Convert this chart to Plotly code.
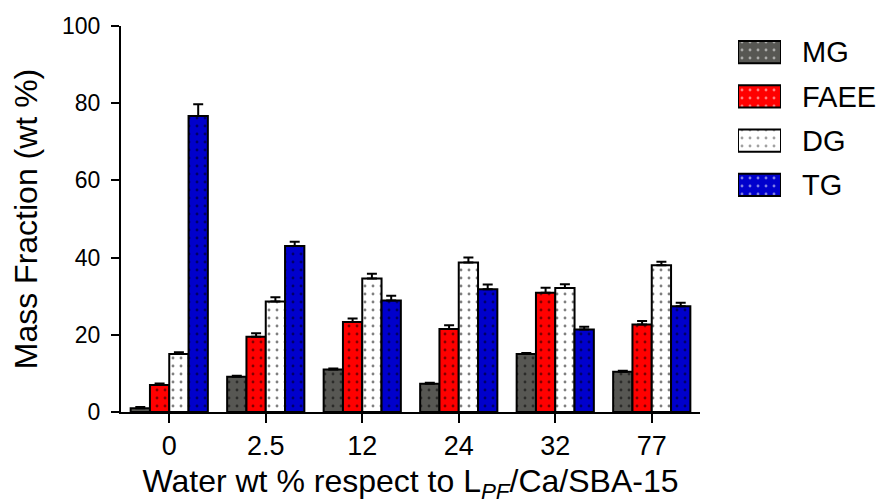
import plotly.graph_objects as go

categories = ["0", "2.5", "12", "24", "32", "77"]
series_names = ["MG", "FAEE", "DG", "TG"]
mg = [1.0, 9.1, 11.0, 7.3, 15.0, 10.4]
faee = [7.0, 19.5, 23.3, 21.5, 30.9, 22.7]
dg = [15.0, 28.6, 34.6, 38.7, 32.1, 38.0]
tg = [76.7, 43.0, 28.9, 31.8, 21.4, 27.4]
mg_err = [0.3, 0.3, 0.3, 0.3, 0.3, 0.3]
faee_err = [0.4, 0.9, 0.9, 1.0, 1.3, 0.9]
dg_err = [0.5, 1.1, 1.2, 1.3, 1.0, 0.9]
tg_err = [3.0, 1.1, 1.2, 1.2, 0.7, 0.9]
colors = ["#575753", "#FF0000", "#FFFFFF", "#0000CC"]

values = [mg, faee, dg, tg]
errors = [mg_err, faee_err, dg_err, tg_err]

FONT = "Arial, 'Liberation Sans', sans-serif"
W, H = 889, 504
ML, MR, MT, MB = 121, 0, 26, 92
plot_w = W - ML - MR
plot_h = H - MT - MB
main_right = 700
PATTERN = dict(shape=".", fgcolor="black", size=8, solidity=0.1)

fig = go.Figure()
for name, vals, errs, col in zip(series_names, values, errors, colors):
    fig.add_trace(go.Bar(
        x=categories, y=vals, name=name,
        marker=dict(color=col, line=dict(color="black", width=2), pattern=PATTERN),
        error_y=dict(type="data", array=errs, arrayminus=[0] * len(errs),
                     color="black", thickness=2, width=5),
        showlegend=False,
    ))

# legend drawn as a small bar chart on its own axes
fig.add_trace(go.Bar(
    x=[1] * len(series_names), y=series_names, orientation="h",
    marker=dict(color=colors, line=dict(color="black", width=2), pattern=PATTERN),
    width=0.5, xaxis="x2", yaxis="y2", showlegend=False, hoverinfo="skip",
))

fig.update_layout(
    width=W, height=H,
    margin=dict(l=ML, r=MR, t=MT, b=MB),
    paper_bgcolor="white", plot_bgcolor="white",
    barmode="group", bargap=0.2, bargroupgap=0,
    font=dict(family=FONT, color="black"),
    xaxis=dict(
        domain=[0, (main_right - ML) / plot_w],
        range=[-0.5, 5.5], type="category",
        showline=True, linecolor="black", linewidth=2,
        ticks="outside", ticklen=9, tickwidth=2, tickcolor="black",
        tickfont=dict(size=27), showgrid=False, zeroline=False,
        title=dict(text="Water wt % respect to L<sub><i>PF</i></sub>/Ca/SBA-15",
                   font=dict(size=32), standoff=17),
    ),
    yaxis=dict(
        range=[0, 100], tickvals=[0, 20, 40, 60, 80, 100],
        showline=True, linecolor="black", linewidth=2,
        ticks="outside", ticklen=8, tickwidth=2, tickcolor="black",
        tickfont=dict(size=23), ticklabelstandoff=6,
        showgrid=False, zeroline=False,
        title=dict(text="Mass Fraction (wt %)", font=dict(size=32), standoff=15),
    ),
    xaxis2=dict(
        domain=[(738 - ML) / plot_w, (781 - ML) / plot_w], range=[0, 1],
        anchor="y2", visible=False, fixedrange=True,
    ),
    yaxis2=dict(
        domain=[(412 - 207) / plot_h, (412 - 30) / plot_h],
        anchor="x2", side="right", type="category",
        categoryorder="array", categoryarray=series_names,
        autorange="reversed", showline=False, showgrid=False, zeroline=False,
        ticks="", tickfont=dict(size=29), ticklabelstandoff=20,
    ),
)

fig.write_html("out.html")
